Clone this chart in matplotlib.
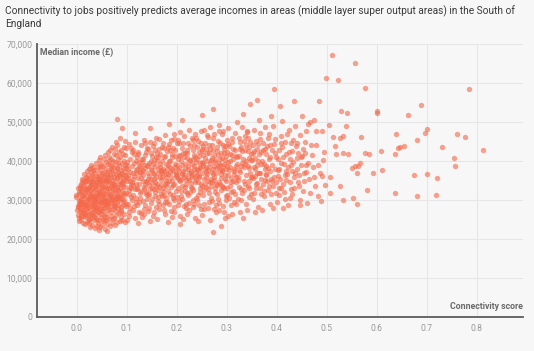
import matplotlib
matplotlib.use("Agg")
import matplotlib.pyplot as plt

# ---------------- data (connectivity score, median income in £ thousands) ----------------
core_points = [
(0.001,27.5),(0.004,29.0),(-0.002,30.8),(0.003,26.2),(0.005,32.0),(0.002,28.4),(0.006,33.5),(0.004,25.5),(-0.001,31.2),(0.005,29.8),
(0.005,24.6),(0.008,27.0),(0.006,28.8),(0.009,30.2),(0.004,31.6),(0.007,33.0),(0.010,34.6),(0.008,26.0),(0.006,29.4),(0.009,32.4),(0.010,35.5),(0.007,28.0),
(0.009,25.0),(0.012,26.8),(0.014,28.2),(0.010,29.6),(0.013,30.9),(0.011,32.2),(0.015,33.8),(0.012,35.2),(0.014,36.6),(0.010,27.4),(0.015,31.4),(0.013,24.2),
(0.016,23.8),(0.014,25.8),(0.018,27.6),(0.015,29.0),(0.019,30.4),(0.017,31.8),(0.020,33.2),(0.016,34.6),(0.018,36.0),(0.020,37.4),(0.014,28.5),(0.019,32.6),(0.017,26.5),
(0.021,24.4),(0.019,26.2),(0.023,27.9),(0.020,29.3),(0.024,30.6),(0.022,31.9),(0.025,33.4),(0.021,34.9),(0.023,36.4),(0.025,38.0),(0.018,28.6),(0.024,25.2),(0.022,32.8),(0.020,35.6),
(0.026,23.2),(0.024,25.0),(0.028,26.6),(0.025,28.1),(0.029,29.5),(0.027,30.8),(0.030,32.1),(0.026,33.6),(0.028,35.0),(0.030,36.5),(0.027,38.2),(0.029,39.0),(0.023,27.3),(0.026,31.5),(0.029,34.2),
(0.031,23.6),(0.029,25.4),(0.033,27.0),(0.030,28.4),(0.034,29.8),(0.032,31.1),(0.035,32.5),(0.031,34.0),(0.033,35.4),(0.035,36.9),(0.032,38.4),(0.028,26.1),(0.034,30.3),(0.030,33.2),(0.033,37.6),
(0.036,22.8),(0.034,24.8),(0.038,26.4),(0.035,27.8),(0.039,29.2),(0.037,30.6),(0.040,31.9),(0.036,33.3),(0.038,34.7),(0.040,36.2),(0.037,37.8),(0.039,39.6),(0.034,28.9),(0.038,32.7),(0.035,25.6),
(0.041,23.4),(0.039,25.3),(0.043,26.9),(0.040,28.3),(0.044,29.7),(0.042,31.0),(0.045,32.4),(0.041,33.8),(0.043,35.3),(0.045,36.8),(0.042,38.5),(0.044,40.2),(0.038,27.5),(0.041,30.1),(0.044,34.4),(0.043,24.1),
(0.046,23.0),(0.044,24.9),(0.048,26.5),(0.045,28.0),(0.049,29.4),(0.047,30.7),(0.050,32.0),(0.046,33.4),(0.048,34.9),(0.050,36.4),(0.047,37.9),(0.049,39.3),(0.046,41.0),(0.043,31.4),(0.049,27.2),(0.045,35.7),
(0.051,23.7),(0.049,25.6),(0.053,27.3),(0.050,28.7),(0.054,30.1),(0.052,31.5),(0.055,32.9),(0.051,34.3),(0.053,35.8),(0.055,37.3),(0.052,38.8),(0.054,40.4),(0.048,29.2),(0.051,33.6),(0.055,26.0),
(0.056,22.5),(0.054,24.5),(0.058,26.3),(0.055,27.9),(0.059,29.3),(0.057,30.8),(0.060,32.2),(0.056,33.7),(0.058,35.2),(0.060,36.7),(0.057,38.2),(0.059,39.8),(0.056,41.6),(0.053,31.1),(0.059,28.6),(0.058,34.8),
(0.061,23.9),(0.059,25.7),(0.063,27.4),(0.060,28.9),(0.064,30.4),(0.062,31.8),(0.065,33.2),(0.061,34.7),(0.063,36.2),(0.065,37.7),(0.062,39.3),(0.064,41.0),(0.063,42.3),(0.058,30.0),(0.061,35.5),
(0.066,23.3),(0.064,25.2),(0.068,26.9),(0.065,28.5),(0.069,30.0),(0.067,31.4),(0.070,32.9),(0.066,34.4),(0.068,35.9),(0.070,37.4),(0.067,39.0),(0.069,40.6),(0.066,42.8),(0.063,29.1),(0.069,33.6),
(0.071,24.0),(0.069,25.9),(0.073,27.6),(0.070,29.2),(0.074,30.7),(0.072,32.2),(0.075,33.7),(0.071,35.2),(0.073,36.8),(0.075,38.4),(0.072,40.0),(0.074,41.7),(0.071,43.6),(0.068,31.5),(0.074,28.1),
(0.076,23.5),(0.074,25.5),(0.078,27.2),(0.075,28.8),(0.079,30.3),(0.077,31.9),(0.080,33.4),(0.076,35.0),(0.078,36.6),(0.080,38.2),(0.077,39.8),(0.079,41.5),(0.076,43.0),(0.073,34.2),(0.078,45.0),
(0.081,24.3),(0.079,26.2),(0.083,27.9),(0.080,29.5),(0.084,31.1),(0.082,32.6),(0.085,34.1),(0.081,35.7),(0.083,37.3),(0.085,38.9),(0.082,40.6),(0.084,42.3),(0.081,44.2),(0.078,30.4),(0.084,36.5),
(0.086,24.7),(0.084,26.6),(0.088,28.3),(0.085,29.9),(0.089,31.4),(0.087,33.0),(0.090,34.6),(0.086,36.2),(0.088,37.8),(0.090,39.4),(0.087,41.1),(0.089,42.9),(0.083,32.3),(0.088,27.5),(0.086,46.0),
(0.091,25.0),(0.089,27.0),(0.093,28.7),(0.090,30.3),(0.094,31.9),(0.092,33.5),(0.095,35.1),(0.091,36.7),(0.093,38.3),(0.095,40.0),(0.092,41.8),(0.094,43.5),(0.088,34.0),(0.093,29.5),
(0.096,24.4),(0.094,26.5),(0.098,28.4),(0.095,30.1),(0.099,31.7),(0.097,33.3),(0.100,34.9),(0.096,36.5),(0.098,38.1),(0.100,39.8),(0.097,41.6),(0.099,43.3),(0.096,45.2),(0.093,35.6),(0.098,29.0),
(0.080,50.7),(0.090,48.5),(0.060,22.0),(0.045,22.3),
(0.003,28.2),(0.007,30.0),(0.011,31.0),(0.015,27.0),(0.018,29.8),(0.022,30.2),(0.025,26.4),(0.027,32.6),(0.030,29.0),(0.032,27.6),
(0.035,30.9),(0.037,33.9),(0.039,28.0),(0.042,29.0),(0.044,32.0),(0.047,27.8),(0.050,30.3),(0.052,34.8),(0.054,28.2),(0.057,31.6),
(0.060,29.8),(0.062,33.0),(0.065,27.8),(0.067,36.3),(0.070,30.6),(0.072,34.0),(0.075,29.6),(0.077,32.7),(0.080,35.8),(0.083,30.8),
(0.012,33.3),(0.017,35.0),(0.021,28.7),(0.026,34.7),(0.031,35.8),(0.036,29.9),(0.041,36.0),(0.046,31.9),(0.051,36.9),(0.056,29.4),
(0.061,37.1),(0.066,31.1),(0.071,38.7),(0.076,33.9),(0.081,37.9),(0.086,35.0),(0.091,32.4),(0.097,37.3),(0.008,25.8),(0.024,24.0),
(0.040,25.0),(0.058,24.8),(0.072,25.2),(0.088,25.6),
(0.002,33.0),(0.006,27.2),(0.009,34.0),(0.013,29.4),(0.016,32.8),(0.019,25.6),(0.023,35.3),(0.026,29.9),(0.029,31.0),(0.032,34.9),
(0.035,28.4),(0.038,31.2),(0.041,34.6),(0.044,27.0),(0.047,35.4),(0.050,33.0),(0.053,29.8),(0.056,36.0),(0.059,33.3),(0.062,29.4),
(0.065,35.0),(0.068,38.0),(0.071,30.0),(0.074,36.0),(0.077,28.4),(0.080,31.3),(0.083,39.6),(0.086,30.6),(0.089,37.0),(0.092,34.3),
(0.095,31.2),(0.099,36.0),(0.011,28.9),(0.028,37.3),(0.047,38.6),(0.064,39.9),(0.082,28.8),(0.096,39.0),(0.033,26.2),(0.052,25.0),
]

mid_points = [
(0.101,24.8),(0.105,27.0),(0.102,29.0),(0.108,30.8),(0.104,32.5),(0.109,34.1),(0.103,35.7),(0.107,37.3),(0.101,38.9),(0.106,40.6),(0.110,42.4),(0.104,44.3),(0.108,33.2),(0.102,36.4),(0.106,28.0),
(0.116,25.3),(0.112,27.5),(0.119,29.4),(0.113,31.2),(0.117,32.9),(0.111,34.5),(0.115,36.1),(0.118,37.7),(0.114,39.4),(0.120,41.1),(0.112,42.9),(0.116,44.8),(0.119,30.5),(0.113,35.3),(0.117,47.2),
(0.123,24.1),(0.128,26.6),(0.121,28.7),(0.126,30.6),(0.129,32.4),(0.124,34.0),(0.122,35.6),(0.127,37.2),(0.125,38.8),(0.130,40.5),(0.123,42.3),(0.128,44.0),(0.121,33.1),(0.126,36.8),(0.124,39.7),
(0.131,25.6),(0.135,27.8),(0.132,29.8),(0.138,31.6),(0.134,33.3),(0.139,34.9),(0.133,36.5),(0.137,38.1),(0.131,39.8),(0.136,41.5),(0.140,43.3),(0.134,45.4),(0.138,32.0),(0.132,37.4),(0.136,28.6),
(0.146,24.6),(0.142,27.2),(0.149,29.3),(0.143,31.2),(0.147,32.9),(0.141,34.6),(0.145,36.2),(0.148,37.9),(0.144,39.5),(0.150,41.2),(0.142,43.0),(0.146,44.9),(0.149,35.5),(0.143,38.7),(0.147,48.4),
(0.153,25.9),(0.158,28.2),(0.151,30.2),(0.156,32.0),(0.159,33.7),(0.154,35.4),(0.152,37.0),(0.157,38.6),(0.155,40.3),(0.160,42.0),(0.153,43.8),(0.158,46.0),(0.151,34.4),(0.156,31.0),(0.154,36.6),
(0.161,25.1),(0.165,27.6),(0.162,29.7),(0.168,31.6),(0.164,33.4),(0.169,35.1),(0.163,36.8),(0.167,38.4),(0.161,40.1),(0.166,41.9),(0.170,43.7),(0.164,45.6),(0.168,37.6),(0.162,32.6),(0.166,39.3),
(0.176,26.3),(0.172,28.6),(0.179,30.6),(0.173,32.4),(0.177,34.2),(0.171,35.9),(0.175,37.5),(0.178,39.2),(0.174,40.9),(0.180,42.6),(0.172,44.5),(0.176,46.6),(0.179,33.5),(0.173,38.0),(0.177,29.6),
(0.183,24.3),(0.188,27.3),(0.181,29.5),(0.186,31.5),(0.189,33.3),(0.184,35.0),(0.182,36.7),(0.187,38.4),(0.185,40.1),(0.190,41.8),(0.183,43.6),(0.188,45.5),(0.181,34.4),(0.186,37.3),(0.184,49.6),
(0.191,25.7),(0.195,28.3),(0.192,30.4),(0.198,32.3),(0.194,34.1),(0.199,35.8),(0.193,37.5),(0.197,39.2),(0.191,40.9),(0.196,42.7),(0.200,44.6),(0.194,46.8),(0.198,36.3),(0.192,31.3),
(0.206,26.0),(0.202,28.8),(0.209,31.0),(0.203,33.0),(0.207,34.8),(0.201,36.5),(0.205,38.2),(0.208,39.9),(0.204,41.6),(0.210,43.4),(0.202,45.3),(0.206,47.5),(0.209,35.4),(0.203,37.8),(0.207,23.9),
(0.213,25.2),(0.218,27.9),(0.211,30.2),(0.216,32.2),(0.219,34.0),(0.214,35.8),(0.212,37.5),(0.217,39.2),(0.215,41.0),(0.220,42.8),(0.213,44.7),(0.211,50.5),(0.211,36.6),(0.216,33.3),
(0.221,26.5),(0.225,29.2),(0.222,31.4),(0.228,33.4),(0.224,35.2),(0.229,36.9),(0.223,38.6),(0.227,40.3),(0.221,42.1),(0.226,43.9),(0.230,45.9),(0.224,48.0),(0.228,34.3),(0.222,38.0),
(0.236,25.4),(0.232,28.3),(0.239,30.6),(0.233,32.6),(0.237,34.5),(0.231,36.3),(0.235,38.0),(0.238,39.8),(0.234,41.6),(0.240,43.5),(0.232,45.5),(0.236,47.0),(0.239,37.2),(0.233,30.0),
(0.243,24.5),(0.248,27.6),(0.241,30.0),(0.246,32.1),(0.249,34.0),(0.244,35.8),(0.242,37.6),(0.247,39.4),(0.245,41.2),(0.250,43.1),(0.243,45.1),(0.248,47.8),(0.241,36.5),(0.246,33.0),
(0.251,26.2),(0.255,29.0),(0.252,31.3),(0.258,33.4),(0.254,35.3),(0.259,37.1),(0.253,38.9),(0.257,40.7),(0.251,42.6),(0.256,44.5),(0.260,46.6),(0.250,51.7),(0.258,36.0),(0.252,39.6),
(0.266,25.0),(0.262,28.0),(0.269,30.5),(0.263,32.7),(0.267,34.7),(0.261,36.6),(0.265,38.4),(0.268,40.2),(0.264,42.1),(0.270,44.1),(0.262,46.2),(0.266,48.6),(0.269,35.5),
(0.273,21.7),(0.278,26.8),(0.271,29.7),(0.276,32.0),(0.279,34.1),(0.274,36.0),(0.272,37.9),(0.277,39.7),(0.275,41.6),(0.280,43.6),(0.273,45.8),(0.272,53.4),(0.276,33.0),(0.274,38.8),
(0.288,23.3),(0.285,27.4),(0.282,30.3),(0.288,32.6),(0.284,34.7),(0.289,36.7),(0.283,38.6),(0.287,40.5),(0.281,42.5),(0.286,44.6),(0.290,46.9),(0.284,49.2),(0.288,35.6),
(0.296,25.5),(0.292,28.5),(0.299,31.0),(0.293,33.3),(0.297,35.4),(0.291,37.4),(0.295,39.3),(0.298,41.2),(0.294,43.2),(0.300,45.4),(0.292,47.6),(0.296,36.4),(0.299,30.0),
(0.104,31.5),(0.113,33.8),(0.119,36.9),(0.127,31.9),(0.133,35.0),(0.141,30.3),(0.144,33.9),(0.152,39.3),(0.157,34.5),(0.163,30.8),
(0.167,35.9),(0.171,40.0),(0.178,36.7),(0.182,32.2),(0.187,39.9),(0.193,33.8),(0.197,38.5),(0.201,30.7),(0.205,35.1),(0.211,39.0),
(0.216,42.0),(0.219,29.0),(0.224,37.0),(0.227,32.0),(0.233,40.6),(0.238,35.1),(0.242,31.3),(0.247,38.4),(0.253,43.8),(0.256,34.1),
(0.262,37.6),(0.265,31.8),(0.271,40.8),(0.275,35.2),(0.279,28.7),(0.283,41.6),(0.287,37.6),(0.291,33.6),(0.295,42.0),(0.298,38.0),
(0.108,43.4),(0.122,41.7),(0.139,42.3),(0.155,44.7),(0.175,43.3),(0.195,45.6),(0.215,46.4),(0.235,44.0),(0.255,48.0),(0.285,47.8),
(0.102,38.0),(0.107,35.0),(0.111,30.0),(0.114,41.9),(0.118,34.0),(0.121,37.9),(0.125,29.6),(0.129,35.7),(0.132,40.6),(0.135,32.7),
(0.137,44.6),(0.142,36.9),(0.145,31.6),(0.148,40.0),(0.151,37.8),(0.154,32.8),(0.157,42.8),(0.159,36.0),(0.162,38.0),(0.165,43.0),
(0.168,33.8),(0.171,37.0),(0.174,31.2),(0.177,41.4),(0.179,36.0),(0.182,39.0),(0.185,44.4),(0.188,35.8),(0.191,38.0),(0.194,30.0),
(0.196,41.2),(0.199,37.0),(0.202,40.6),(0.205,44.5),(0.208,32.3),(0.210,37.0),(0.213,42.0),(0.216,38.0),(0.218,35.1),(0.220,31.8),
(0.223,44.6),(0.225,40.0),(0.228,37.5),(0.230,33.0),(0.232,42.8),(0.234,38.6),(0.236,35.8),(0.238,46.0),(0.240,40.4),(0.242,34.5),
(0.244,42.4),(0.246,38.3),(0.248,44.7),(0.250,36.8),(0.252,41.6),(0.254,32.5),(0.256,38.0),(0.258,43.0),(0.260,40.0),(0.262,35.0),
(0.264,44.0),(0.266,39.4),(0.268,33.6),(0.270,37.2),(0.272,42.7),(0.274,47.0),(0.276,40.2),(0.278,36.8),(0.280,31.5),(0.282,45.2),
(0.284,39.5),(0.286,34.0),(0.288,42.0),(0.290,37.8),(0.292,44.0),(0.294,33.0),(0.296,40.2),(0.298,35.0),(0.300,38.6),(0.300,42.2),
(0.105,26.0),(0.115,28.5),(0.125,27.0),(0.135,26.4),(0.145,28.0),(0.155,27.0),(0.165,29.0),(0.175,27.4),(0.185,29.0),(0.195,27.0),
(0.205,29.8),(0.215,28.5),(0.225,27.4),(0.235,29.0),(0.245,28.8),(0.255,27.6),(0.265,29.4),(0.275,27.8),(0.285,29.2),(0.295,26.8),
(0.110,38.6),(0.120,32.8),(0.130,37.8),(0.140,39.0),(0.150,33.0),(0.160,34.2),(0.170,31.0),(0.180,38.0),(0.190,34.8),(0.200,39.0),
(0.210,33.6),(0.220,40.8),(0.230,36.0),(0.240,38.0),(0.250,33.7),(0.260,42.0),(0.270,34.5),(0.280,38.3),(0.290,40.8),(0.300,33.0),
(0.112,36.8),(0.126,38.5),(0.143,35.3),(0.158,40.9),(0.172,33.0),(0.186,42.8),(0.203,35.6),(0.217,36.3),(0.231,39.2),(0.245,36.2),
(0.259,38.5),(0.273,36.6),(0.287,39.0),(0.297,43.8),(0.118,40.0),(0.134,39.0),(0.149,42.0),(0.163,41.0),(0.178,34.8),(0.192,43.4),
(0.207,41.3),(0.222,35.6),(0.237,41.0),(0.251,39.8),(0.267,43.0),(0.281,33.8),(0.293,38.8),(0.106,33.4),(0.137,34.2),(0.169,37.3),
]

tail_points = [
(0.303,25.8),(0.308,28.8),(0.301,31.3),(0.306,33.6),(0.309,35.7),(0.304,37.7),(0.302,39.7),(0.307,41.7),(0.305,43.8),(0.310,46.0),(0.303,48.5),(0.308,34.6),
(0.311,26.4),(0.315,29.6),(0.312,32.2),(0.318,34.5),(0.314,36.6),(0.319,38.6),(0.313,40.6),(0.317,42.7),(0.311,44.9),(0.316,47.3),(0.320,50.0),(0.314,37.5),
(0.326,27.0),(0.322,30.2),(0.329,32.8),(0.323,35.1),(0.327,37.2),(0.321,39.3),(0.325,41.4),(0.328,43.6),(0.324,46.0),(0.330,48.7),(0.322,36.0),
(0.333,25.3),(0.338,29.0),(0.331,31.8),(0.336,34.2),(0.339,36.4),(0.334,38.5),(0.332,40.6),(0.337,42.8),(0.335,45.2),(0.340,47.8),(0.333,52.0),
(0.341,27.5),(0.345,30.8),(0.342,33.5),(0.348,35.9),(0.344,38.1),(0.349,40.3),(0.343,42.5),(0.347,44.9),(0.341,47.5),(0.347,54.5),(0.346,37.0),
(0.356,26.8),(0.352,30.3),(0.359,33.1),(0.353,35.6),(0.357,37.9),(0.351,40.2),(0.355,42.6),(0.358,45.1),(0.354,48.0),(0.360,39.0),
(0.363,28.2),(0.368,31.6),(0.361,34.4),(0.366,36.9),(0.369,39.3),(0.364,41.7),(0.362,44.3),(0.367,47.2),(0.361,55.7),(0.365,50.5),
(0.371,27.4),(0.375,31.0),(0.372,34.0),(0.378,36.7),(0.374,39.2),(0.379,41.8),(0.373,44.6),(0.377,48.8),(0.376,38.0),
(0.386,29.0),(0.382,32.5),(0.389,35.5),(0.383,38.3),(0.387,41.0),(0.381,43.9),(0.385,47.0),(0.388,51.5),
(0.393,28.0),(0.398,31.8),(0.391,35.0),(0.396,38.0),(0.399,41.0),(0.394,44.3),(0.395,58.4),(0.392,49.0),
(0.401,29.5),(0.405,33.0),(0.402,36.2),(0.408,39.4),(0.404,42.7),(0.409,46.3),(0.407,54.1),
(0.416,30.2),(0.412,34.0),(0.419,37.5),(0.413,41.0),(0.417,44.8),(0.411,50.2),
(0.423,28.6),(0.428,32.8),(0.421,36.6),(0.426,40.4),(0.429,44.5),(0.424,48.0),
(0.431,31.5),(0.435,35.8),(0.432,39.8),(0.438,43.9),(0.434,55.5),
(0.446,30.0),(0.442,34.6),(0.449,38.9),(0.443,42.0),(0.447,46.6),
(0.453,32.4),(0.458,37.2),(0.451,41.3),(0.456,45.0),
(0.461,29.3),(0.465,35.5),(0.462,39.6),(0.468,44.2),
(0.476,33.6),(0.472,38.4),(0.479,47.6),
(0.482,31.0),(0.487,36.8),(0.494,42.3),(0.485,55.5),
(0.402,37.8),(0.405,31.2),(0.408,44.6),(0.412,27.9),(0.415,39.3),(0.418,35.1),(0.421,46.8),(0.424,42.2),(0.427,30.6),(0.431,37.4),
(0.434,33.2),(0.437,48.9),(0.441,40.7),(0.444,36.3),(0.447,28.7),(0.452,43.0),(0.455,34.9),(0.458,39.0),(0.462,49.5),(0.466,31.8),
(0.471,41.6),(0.474,36.0),(0.478,44.0),(0.483,38.9),(0.488,29.7),(0.493,40.3),(0.497,33.9),
(0.450,51.5),(0.466,50.0),(0.474,50.6),(0.458,47.6),(0.490,47.8),
(0.305,30.5),(0.313,35.0),(0.318,41.2),(0.324,33.4),(0.328,38.8),(0.335,32.6),(0.338,44.0),(0.344,35.0),(0.349,41.7),(0.354,31.7),
(0.357,36.2),(0.363,39.9),(0.367,33.0),(0.372,42.8),(0.377,35.1),(0.383,46.0),(0.387,37.5),(0.392,33.6),(0.397,45.6),(0.303,44.4),
(0.316,31.5),(0.327,45.0),(0.343,46.0),(0.353,44.0),
(0.302,36.5),(0.306,40.0),(0.309,32.0),(0.312,43.0),(0.315,38.0),(0.318,29.0),(0.321,41.0),(0.324,37.6),(0.326,43.0),(0.329,30.0),
(0.331,39.5),(0.334,35.0),(0.337,46.5),(0.339,40.0),(0.342,38.6),(0.345,43.5),(0.348,31.5),(0.350,36.0),(0.352,42.0),(0.355,38.4),
(0.358,34.0),(0.361,43.0),(0.364,37.0),(0.366,45.6),(0.369,35.5),(0.371,40.0),(0.374,32.2),(0.377,43.0),(0.379,38.8),(0.381,35.0),
(0.384,40.5),(0.386,44.0),(0.389,31.5),(0.391,39.0),(0.394,36.0),(0.397,42.0),(0.399,34.5),(0.403,40.5),(0.406,35.5),(0.410,43.5),
(0.414,32.0),(0.418,41.8),(0.422,38.5),(0.426,34.5),(0.430,42.5),(0.436,37.0),(0.440,44.5),(0.445,33.5),(0.449,41.0),(0.454,37.0),
(0.307,38.4),(0.319,36.0),(0.331,42.6),(0.344,40.8),(0.356,40.8),(0.368,42.4),(0.379,36.4),(0.391,42.8),(0.404,38.0),(0.416,36.5),
(0.428,39.0),(0.441,38.0),(0.311,41.5),(0.336,39.2),(0.361,37.0),(0.384,33.6),(0.409,33.0),(0.433,45.5),(0.457,42.0),(0.345,33.0),
]

outlier_points = [
(0.510,67.3),(0.556,65.2),(0.499,61.2),(0.523,60.8),(0.576,58.7),(0.528,52.9),(0.540,52.3),(0.600,52.9),(0.601,52.2),(0.663,51.7),
(0.505,49.3),(0.539,48.9),(0.569,46.2),(0.639,46.8),(0.643,43.3),(0.647,43.5),(0.655,43.9),(0.608,42.5),(0.637,41.7),(0.576,42.1),
(0.584,41.7),(0.513,46.2),(0.527,45.9),(0.532,46.4),(0.517,43.8),(0.519,41.7),(0.533,42.1),(0.543,41.7),(0.550,38.3),(0.557,38.7),
(0.563,38.7),(0.567,39.5),(0.560,37.0),(0.592,37.0),(0.610,37.8),(0.581,32.5),(0.527,33.7),(0.552,30.5),(0.533,29.9),(0.560,29.1),
(0.637,31.7),(0.507,31.8),(0.490,36.1),(0.507,35.9),(0.784,58.4),(0.688,54.4),(0.700,48.3),(0.697,47.3),(0.680,45.4),(0.761,47.0),
(0.776,46.2),(0.731,43.5),(0.813,42.9),(0.755,40.7),(0.757,38.6),(0.674,36.5),(0.700,36.6),(0.720,35.6),(0.680,31.0),(0.719,31.3),
]

x_ticks = [0.0, 0.1, 0.2, 0.3, 0.4, 0.5, 0.6, 0.7, 0.8]
x_tick_labels = ["0.0", "0.1", "0.2", "0.3", "0.4", "0.5", "0.6", "0.7", "0.8"]
y_ticks = [0, 10000, 20000, 30000, 40000, 50000, 60000, 70000]
y_tick_labels = ["0", "10,000", "20,000", "30,000", "40,000", "50,000", "60,000", "70,000"]

title = ("Connectivity to jobs positively predicts average incomes in areas (middle layer super output areas) in the South of\n"
         "England")

# ---------------- style ----------------
BG = "#f7f7f7"
DOT = "#f4694a"
FONT = ["Roboto", "DejaVu Sans"]
plt.rcParams["font.family"] = FONT

W, H = 534, 351
fig = plt.figure(figsize=(W / 100, H / 100), dpi=100, facecolor=BG)
left_px, right_px, top_px, bottom_px = 36.7, 523, 44, 317
ax = fig.add_axes([left_px / W, 1 - bottom_px / H, (right_px - left_px) / W, (bottom_px - top_px) / H])
ax.set_facecolor(BG)

for pts in (core_points, mid_points, tail_points, outlier_points):
    xs = [p[0] for p in pts]
    ys = [p[1] * 1000 for p in pts]
    ax.scatter(xs, ys, s=15, c=DOT, alpha=0.62, linewidths=0, zorder=3)

ax.set_xlim(-0.08, 0.893)
ax.set_ylim(0, 70000)
ax.set_xticks(x_ticks)
ax.set_xticklabels(x_tick_labels)
ax.set_yticks(y_ticks)
ax.set_yticklabels(y_tick_labels)
ax.tick_params(axis="both", length=0, colors="#9a9a9a", labelsize=6.2)
ax.tick_params(axis="x", pad=5)
ax.tick_params(axis="y", pad=3)
ax.grid(True, color="#e6e6e6", linewidth=0.8, zorder=0)
ax.set_axisbelow(True)

for side in ("top", "right"):
    ax.spines[side].set_visible(False)
for side in ("left", "bottom"):
    ax.spines[side].set_color("#5c5c5c")
    ax.spines[side].set_linewidth(1.3)
    ax.spines[side].set_zorder(4)

ax.text(0.007, 0.985, "Median income (£)", transform=ax.transAxes, ha="left", va="top",
        fontsize=6.3, fontweight="bold", color="#6a6a6a", zorder=5)
ax.text(1.0, 0.022, "Connectivity score", transform=ax.transAxes, ha="right", va="bottom",
        fontsize=6.3, fontweight="bold", color="#6a6a6a", zorder=5)

fig.text(5 / W, 1 - 5 / H, title, ha="left", va="top", fontsize=7.3, color="#3a3a3a", linespacing=1.3)

fig.savefig("out.png", dpi=100, facecolor=BG)
